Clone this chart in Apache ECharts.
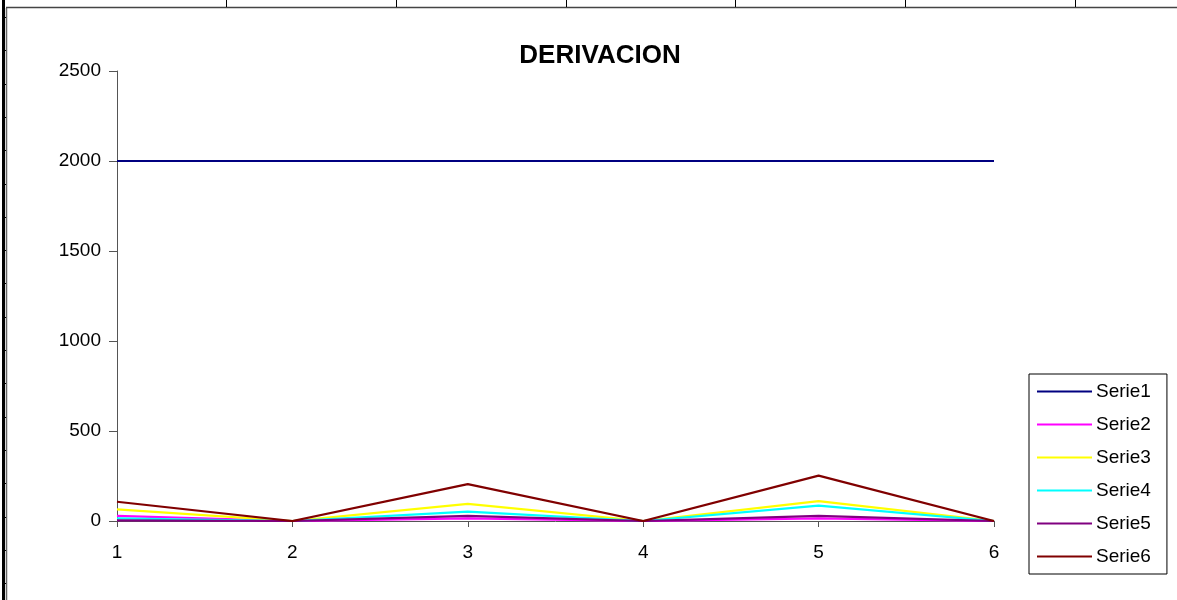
<!DOCTYPE html>
<html>
<head>
<meta charset="utf-8">
<script src="https://cdn.jsdelivr.net/npm/echarts@6/dist/echarts.min.js"></script>
<style>
html,body{margin:0;padding:0;background:#fff;}
#chart{width:1177px;height:600px;}
</style>
</head>
<body>
<div id="chart"></div>
<script>
const categories = ['1', '2', '3', '4', '5', '6'];
const seriesNames = ['Serie1', 'Serie2', 'Serie3', 'Serie4', 'Serie5', 'Serie6'];
const serie1 = [2000, 2000, 2000, 2000, 2000, 2000];
const serie2 = [28, 0, 15, 0, 15, 0];
const serie3 = [65, 0, 95, 0, 110, 0];
const serie4 = [15, 0, 52, 0, 85, 0];
const serie5 = [4, 0, 28, 0, 28, 0];
const serie6 = [107, 0, 205, 0, 252, 0];
const seriesColors = ['#000080', '#FF00FF', '#FFFF00', '#00FFFF', '#800080', '#800000'];
const yTicks = [0, 500, 1000, 1500, 2000, 2500];

const allData = [serie1, serie2, serie3, serie4, serie5, serie6];
const FONT = 'Liberation Sans, Arial, sans-serif';

const chart = echarts.init(document.getElementById('chart'));

// decorative spreadsheet frame
const graphics = [
  { type: 'rect', shape: { x: 2, y: 0, width: 3, height: 600 }, style: { fill: '#000' } },
  { type: 'line', shape: { x1: 6.5, y1: 8, x2: 6.5, y2: 600 }, style: { stroke: '#666', lineWidth: 1.5 } },
  { type: 'line', shape: { x1: 6, y1: 7.5, x2: 1177, y2: 7.5 }, style: { stroke: '#444', lineWidth: 1.5 } }
];
[226, 396, 566, 735, 905, 1075].forEach(x => {
  graphics.push({ type: 'line', shape: { x1: x + 0.5, y1: 0, x2: x + 0.5, y2: 7 }, style: { stroke: '#000', lineWidth: 1 } });
});
for (let i = 0; i < 18; i++) {
  const y = Math.round(17 + i * 33.3) + 0.5;
  graphics.push({ type: 'line', shape: { x1: 4, y1: y, x2: 6, y2: y }, style: { stroke: '#000', lineWidth: 1 } });
}

chart.setOption({
  animation: false,
  backgroundColor: '#fff',
  graphic: graphics,
  title: {
    text: 'DERIVACION',
    left: 595,
    textAlign: 'center',
    top: 38,
    textStyle: { fontFamily: FONT, fontSize: 26, fontWeight: 'bold', color: '#000' }
  },
  legend: {
    orient: 'vertical',
    left: 1029,
    top: 374,
    backgroundColor: '#fff',
    borderColor: '#000',
    borderWidth: 1,
    borderRadius: 0,
    padding: [8, 16, 8, 7],
    itemWidth: 55,
    itemHeight: 16,
    itemGap: 14,
    icon: 'inherit',
    itemStyle: { opacity: 0 },
    data: seriesNames,
    textStyle: { fontFamily: FONT, fontSize: 19, color: '#000', padding: [0, 0, 0, -1] }
  },
  grid: { left: 117, top: 71, right: 183, bottom: 79, containLabel: false },
  xAxis: {
    type: 'category',
    data: categories,
    boundaryGap: false,
    axisLine: { lineStyle: { color: '#555', width: 1 } },
    axisTick: { show: true, length: 6, inside: false, lineStyle: { color: '#555' } },
    axisLabel: { margin: 22, fontFamily: FONT, fontSize: 19, color: '#000' },
    splitLine: { show: false }
  },
  yAxis: {
    type: 'value',
    min: yTicks[0],
    max: yTicks[yTicks.length - 1],
    interval: yTicks[1] - yTicks[0],
    axisLine: { show: true, lineStyle: { color: '#555', width: 1 } },
    axisTick: { show: true, length: 8, lineStyle: { color: '#555' } },
    axisLabel: { margin: 16, fontFamily: FONT, fontSize: 19, color: '#000', formatter: v => String(v) },
    splitLine: { show: false }
  },
  series: seriesNames.map((name, i) => ({
    name: name,
    type: 'line',
    data: allData[i],
    symbol: 'none',
    color: seriesColors[i],
    lineStyle: { color: seriesColors[i], width: 2.2 },
    z: 2 + i
  }))
});
</script>
</body>
</html>
